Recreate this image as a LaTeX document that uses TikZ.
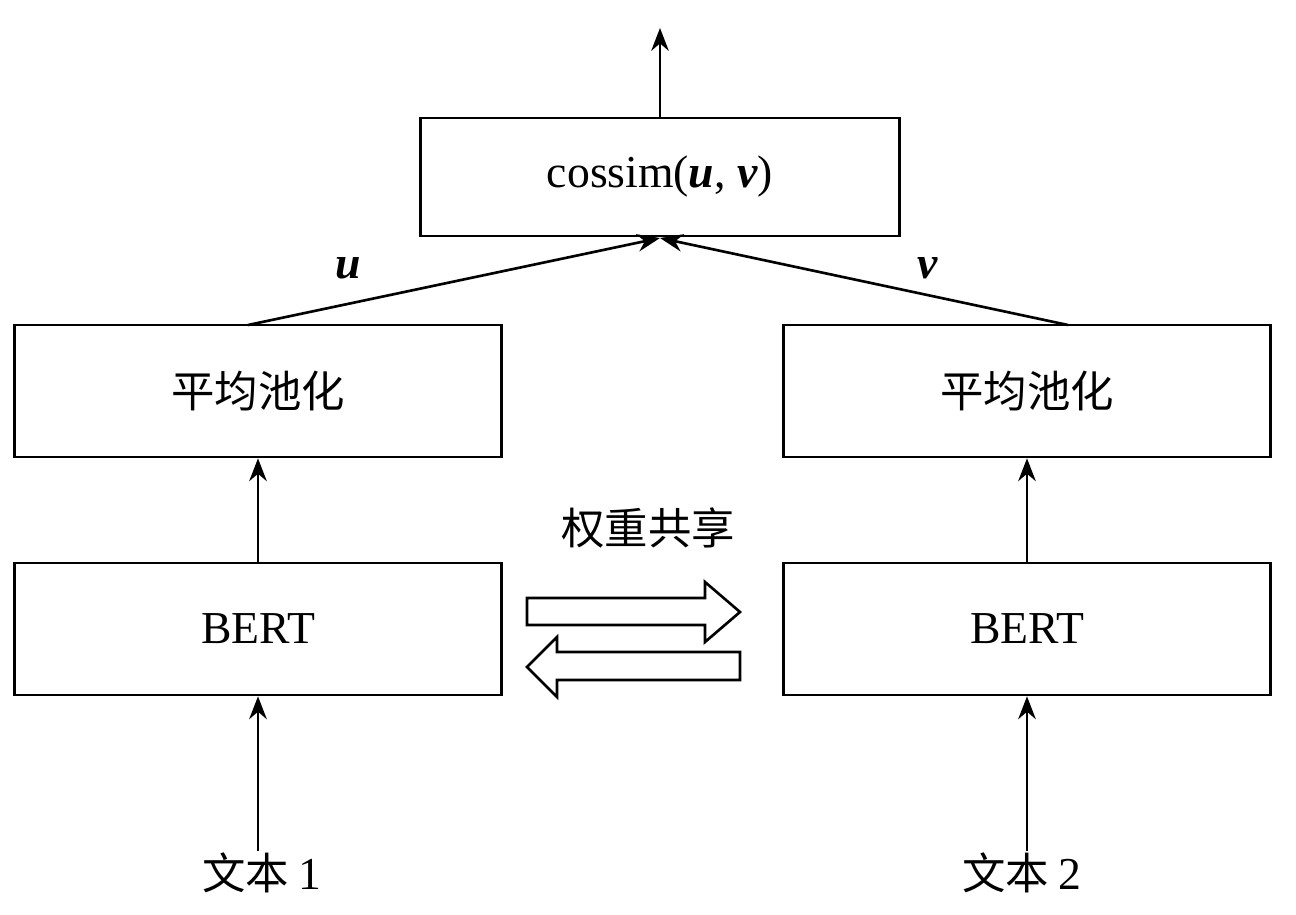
\documentclass[tikz,border=0pt]{standalone}
\usepackage{fontspec}
\setmainfont{Liberation Serif}
\newfontfamily\cjk{Noto Sans CJK SC}[Scale=0.95]
\usepackage{tikz}
\usetikzlibrary{arrows.meta, shapes.arrows}

\tikzset{
  blk/.style={draw, line width=1.5pt, minimum width=487*0.02cm, minimum height=132*0.02cm, inner sep=0pt},
  conn/.style={line width=1.5pt, -{Stealth[length=13pt, width=10pt]}},
  lbl/.style={inner sep=0pt},
}

\begin{document}
\begin{tikzpicture}[x=0.02cm, y=-0.02cm, font=\fontsize{26}{30}\selectfont]
            \useasboundingbox (0,0) rectangle (1296,914);
            \node[blk, minimum width=479*0.02cm, minimum height=118*0.02cm] (cos) at (660,177) {cossim(\textbf{\textit{u}}, \textbf{\textit{v}})};
            \node[blk] (pool1) at (258,391) {\cjk 平均池化};
            \node[blk] (pool2) at (1027,391) {\cjk 平均池化};
            \node[blk] (bert1) at (258,629) {BERT};
            \node[blk] (bert2) at (1027,629) {BERT};
            \node[lbl] (txt1) at (262,873) {\cjk 文本 \rmfamily 1};
            \node[lbl] (txt2) at (1022,873) {\cjk 文本 \rmfamily 2};
            \coordinate (out) at (660,28);
            \coordinate (u0) at (248,325);
            \coordinate (v0) at (1068,325);
            \coordinate (in) at (660,238);
            \draw[conn] (cos.north) -- (out);
            \draw[conn] (u0) -- (in);
            \draw[conn] (v0) -- (in);
            \draw[conn] (bert1.north) -- (pool1.south);
            \draw[conn] (bert2.north) -- (pool2.south);
            \draw[conn] (txt1.north -| bert1) ++(0,-2) coordinate (t1) -- (bert1.south);
            \draw[conn] (txt2.north -| bert2) ++(0,-2) coordinate (t2) -- (bert2.south);
            \node[lbl] (ulab) at (348,268) {\textbf{\textit{u}}};
            \node[lbl] (vlab) at (928,268) {\textbf{\textit{v}}};
            \node[lbl] (share) at (648,528) {\cjk 权重共享};
            % hollow arrows
            \draw[line width=1.5pt, fill=white] (527,598) -- (705,598) -- (705,582) -- (740,612) -- (705,642) -- (705,625) -- (527,625) -- cycle;
            \draw[line width=1.5pt, fill=white] (740,652) -- (557,652) -- (557,637) -- (527,667) -- (557,697) -- (557,680) -- (740,680) -- cycle;
        \end{tikzpicture}
\end{document}
